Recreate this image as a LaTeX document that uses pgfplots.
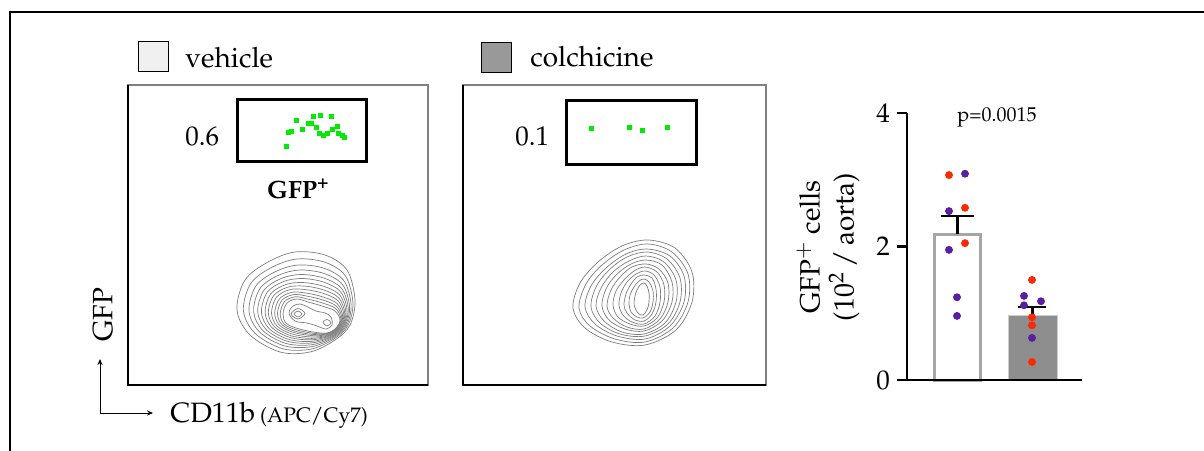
\documentclass[border=0pt]{standalone}
\usepackage[T1]{fontenc}
\usepackage{mathpazo}
\usepackage{pgfplots}
\pgfplotsset{compat=1.18}
\usetikzlibrary{arrows.meta}
\definecolor{gfpgreen}{RGB}{0,235,0}
\definecolor{dred}{RGB}{255,40,0}
\definecolor{dpurple}{RGB}{90,30,160}
\definecolor{contgray}{RGB}{125,125,125}
\definecolor{barone}{RGB}{166,166,166}
\definecolor{bartwo}{RGB}{142,142,142}
\definecolor{legone}{RGB}{240,240,240}
\definecolor{legtwo}{RGB}{153,153,153}
\newcommand{\fs}[1]{\fontsize{#1}{#1}\selectfont}
\pgfplotsset{cont/.style={smooth cycle, tension=0.55, draw=contgray, line width=0.35pt, mark=none}}
\begin{document}
\begin{tikzpicture}
\useasboundingbox (0,0) rectangle (602pt,225pt);
% ---------- overlay axis in pixel coordinates ----------
\begin{axis}[at={(0pt,0pt)}, anchor=south west, scale only axis,
  width=602pt, height=225pt, xmin=0, xmax=1204, ymin=0, ymax=450,
  y dir=reverse, hide axis, clip=false]
 % outer frame
 \draw[line width=1pt] (10,455) -- (10,12) -- (1210,12);
 % legend
 \draw[fill=legone, line width=0.8pt] (138.5,41.5) rectangle (168.5,71.5);
 \node[anchor=base west, inner sep=0, font=\fs{14}] at (185,67) {vehicle};
 \draw[fill=legtwo, line width=0.8pt] (481.5,42.5) rectangle (511.5,72.5);
 \node[anchor=base west, inner sep=0, font=\fs{14}] at (530,66) {colchicine};
 % panel frames
 \draw[black!50, line width=0.7pt] (128,85) rectangle (428,385);
 \draw[black, line width=0.8pt] (128,85) -- (128,385) -- (428,385);
 \draw[black!50, line width=0.7pt] (463,85) rectangle (766,385);
 \draw[black, line width=0.8pt] (463,85) -- (463,385) -- (766,385);
 % gates
 \draw[line width=1.5pt] (237.5,99.5) rectangle (366.5,161.5);
 \draw[line width=1.5pt] (566.5,100.5) rectangle (696.5,164.5);
 \node[anchor=base west, inner sep=0, font=\fs{13.5}] at (185,145) {0.6};
 \node[anchor=base west, inner sep=0, font=\fs{13.5}] at (515,145) {0.1};
 \node[anchor=base, inner sep=0, font=\fs{12.5}\bfseries] at (298.5,198) {GFP\textsuperscript{+}};
 % gated events
 \addplot[only marks, mark=square*, mark size=1pt, color=gfpgreen] coordinates {
  (286,146)(288,132)(291,131)(296,120)(302,129)(308,123)(311,123)(313,116)(320,115)(316,127)
  (319,133)(323,135)(327,133)(331,116)(332,129)(337,126)(338,133)(342,135)(344,137)};
 \addplot[only marks, mark=square*, mark size=1pt, color=gfpgreen] coordinates {
  (591,128)(629,127)(642,130)(667,127)};
 % contours panel 1 (vehicle)
 \addplot[cont] coordinates {(237,310)(245,280)(268,262)(295,252)(325,255)(347,270)(355,300)(350,325)(335,340)(310,352)(280,352)(250,335)};
 \addplot[cont] coordinates {(243.4,310.6)(250.9,283.2)(272.1,267.2)(296.8,259)(324.6,262.1)(345.3,275.7)(352.9,302.8)(348,325.4)(333.9,339)(310.4,349.2)(282.2,348.6)(255,333.3)};
 \addplot[cont] coordinates {(249,311)(255.9,286)(275.5,271.6)(298.4,265)(324.2,268.3)(343.9,280.7)(351.1,305.2)(346.4,325.8)(332.9,338.2)(310.8,346.8)(284.2,345.8)(259.4,331.9)};
 \addplot[cont] coordinates {(253.6,311.4)(260.1,288.3)(278.4,275.3)(299.7,270)(323.9,273.4)(342.7,284.8)(349.6,307.2)(345,326.1)(332.1,337.5)(311.1,344.8)(285.8,343.4)(263,330.7)};
 \addplot[cont] coordinates {(257.7,311.8)(263.9,290.3)(281,278.6)(300.8,274.5)(323.7,278)(341.6,288.4)(348.3,309)(343.7,326.3)(331.4,336.9)(311.3,343)(287.2,341.2)(266.2,329.6)};
 \addplot[cont] coordinates {(261.4,312.1)(267.3,292.2)(283.4,281.6)(301.9,278.5)(323.4,282)(340.6,291.7)(347.1,310.6)(342.6,326.6)(330.8,336.3)(311.6,341.4)(288.5,339.3)(269.1,328.6)};
 \addplot[cont] coordinates {(265.1,312.4)(270.6,294)(285.7,284.6)(302.9,282.5)(323.2,286.1)(339.7,295)(345.9,312.2)(341.5,326.8)(330.1,335.7)(311.8,339.8)(289.8,337.4)(272,327.7)};
 \addplot[cont] coordinates {(268.3,312.7)(273.6,295.6)(287.7,287.2)(303.8,286)(323,289.7)(338.8,297.9)(344.8,313.6)(340.5,327)(329.6,335.2)(312,338.4)(290.9,335.7)(274.5,326.8)};
 \addplot[cont] coordinates {(271.5,313)(276.5,297.2)(289.7,289.7)(304.7,289.5)(322.8,293.2)(338,300.7)(343.8,315)(339.5,327.2)(329,334.8)(312.2,337)(292,334)(277,326)};
 \addplot[cont] coordinates {(274.7,313.3)(279.4,298.9)(291.8,292.3)(305.7,293)(322.5,296.8)(337.2,303.6)(342.7,316.4)(338.5,327.5)(328.4,334.3)(312.5,335.6)(293.1,332.3)(279.5,325.2)};
 \addplot[cont] coordinates {(277.5,313.5)(282,300.2)(293.5,294.6)(306.4,296)(322.4,299.9)(336.4,306.1)(341.8,317.6)(337.7,327.6)(328,333.8)(312.6,334.4)(294.1,330.9)(281.7,324.4)};
 \addplot[cont] coordinates {(280.2,313.8)(284.5,301.6)(295.3,296.8)(307.2,299)(322.2,302.9)(335.7,308.5)(340.9,318.8)(336.8,327.8)(327.5,333.4)(312.8,333.2)(295,329.4)(283.8,323.7)};
 \addplot[cont] coordinates {(283,314)(287,303)(297,299)(308,302)(322,306)(335,311)(340,320)(336,328)(327,333)(313,332)(296,328)(286,323)};
 \addplot[cont] coordinates {(289,313)(293,306)(300,304)(308,307)(316,311)(325,313)(331,317)(332,325)(326,329)(317,326)(307,323)(295,321)};
 \addplot[cont] coordinates {(291,314)(298,308.5)(305,313.5)(298,319)};
 \addplot[cont] coordinates {(294,314)(298,311)(302,314)(298,317)};
 \addplot[cont] coordinates {(323,322)(327,319.5)(331,322.5)(327,326)};
 % contours panel 2 (colchicine)
 \addplot[cont] coordinates {(573,308)(580,283)(598,262)(622,246)(648,240)(675,248)(692,272)(692,302)(676,330)(645,345)(612,342)(585,328)};
 \addplot[cont] coordinates {(579,308)(586,284)(602,265)(624,250)(648,244)(672,252)(688,274)(688,302)(673,328)(645,342)(615,339)(590,326)};
 \addplot[cont] coordinates {(585,307)(591,286)(606,268)(626,254)(647,249)(670,256)(684,276)(684,302)(670,326)(645,339)(617,336)(595,324)};
 \addplot[cont] coordinates {(591,307)(596,287)(609,270)(627,257)(647,252)(667,259)(680,278)(680,302)(668,324)(645,336)(620,334)(600,323)};
 \addplot[cont] coordinates {(596,306)(601,288)(613,272)(629,261)(646,256)(664,262)(676,280)(676,302)(665,323)(644,334)(622,332)(604,321)};
 \addplot[cont] coordinates {(602,306)(606,289)(616,275)(631,264)(646,260)(662,265)(672,282)(672,302)(662,321)(644,331)(625,329)(609,320)};
 \addplot[cont] coordinates {(607,306)(611,290)(620,277)(632,267)(646,264)(659,269)(668,283)(668,302)(660,319)(644,329)(627,327)(613,318)};
 \addplot[cont] coordinates {(613,305)(616,291)(624,280)(634,271)(645,267)(657,272)(664,285)(664,302)(657,318)(644,326)(630,324)(618,317)};
 \addplot[cont] coordinates {(619,305)(621,293)(627,282)(636,274)(645,271)(654,275)(660,287)(660,302)(655,316)(644,324)(632,322)(623,315)};
 \addplot[cont] coordinates {(624,305)(626,294)(631,284)(637,277)(644,275)(652,278)(656,289)(656,302)(652,314)(644,321)(635,320)(627,313)};
 \addplot[cont] coordinates {(629,304)(630,295)(634,287)(639,281)(644,279)(649,282)(653,291)(653,302)(650,312)(643,318)(637,317)(631,312)};
 \addplot[cont] coordinates {(634,304)(635,296)(637,290)(640,285)(644,283)(647,286)(649,293)(649,302)(647,310)(643,315)(639,314)(636,310)};
 % axis hints
 \node[rotate=90, inner sep=0, font=\fs{14}] at (103,315) {GFP};
 \draw[line width=0.5pt, {Stealth[length=3pt,width=2.6pt]}-{Stealth[length=3pt,width=2.6pt]}] (100,359) -- (100,413) -- (153,413);
 \node[anchor=base west, inner sep=0] at (170,422) {\fs{14}CD11b\,{\fs{10.5}(APC/Cy7)}};
 % bar chart texts
 \node[anchor=base, inner sep=0, font=\fs{10}] at (997,121) {p=0.0015};
 \node[rotate=90, align=center, inner sep=0, font=\fontsize{14}{17}\selectfont] at (828,247) {GFP$^{+}$ cells\\(10$^{2}$\,/\,aorta)};
\end{axis}
% ---------- bar chart ----------
\begin{axis}[at={(453.5pt,35pt)}, anchor=south west, scale only axis,
  width=87.5pt, height=133.5pt, xmin=907, xmax=1082, ymin=0, ymax=4,
  axis y line*=left, axis x line=none, ytick={0,2,4}, xtick=\empty,
  tick align=outside, major tick length=5pt,
  y axis line style={line width=1.1pt, black},
  ytick style={line width=1.1pt, black},
  yticklabel style={font=\fs{13.5}}, clip=false]
 \addplot[ybar, bar width=46, bar shift=0pt, fill=white, draw=barone, line width=1.5pt] coordinates {(957.5,2.18)};
 \addplot[ybar, bar width=49, bar shift=0pt, fill=bartwo, draw=black!20, line width=0.5pt] coordinates {(1032.5,0.965)};
 \addplot[black, line width=1.1pt] coordinates {(957.5,2.18) (957.5,2.46)};
 \addplot[black, line width=1.1pt] coordinates {(941,2.46) (974,2.46)};
 \addplot[black, line width=1.1pt] coordinates {(1032.5,0.965) (1032.5,1.09)};
 \addplot[black, line width=1.1pt] coordinates {(1018,1.09) (1046,1.09)};
 \addplot[only marks, mark=*, mark size=1.75pt, color=dred, mark options={draw=none, fill=dred}] coordinates {
  (949,3.07)(965,2.58)(965,2.05)(1032,1.50)(1032,0.94)(1032,0.82)(1032,0.27)};
 \addplot[only marks, mark=*, mark size=1.75pt, color=dpurple, mark options={draw=none, fill=dpurple}] coordinates {
  (965,3.09)(949,2.53)(949,1.95)(957,1.24)(957,0.96)(1024,1.26)(1041,1.18)(1024,1.12)(1032,0.63)};
 \draw[line width=1.1pt] (897,0) -- (1082,0);
\end{axis}
\end{tikzpicture}
\end{document}
